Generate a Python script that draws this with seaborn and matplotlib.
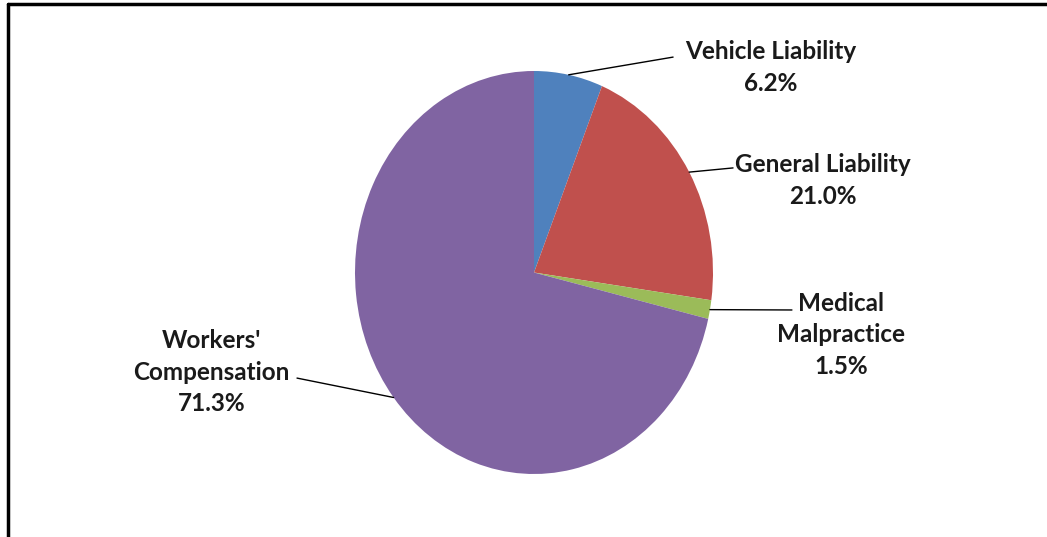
import numpy as np
import matplotlib
matplotlib.use("Agg")
import matplotlib.pyplot as plt
import seaborn as sns
from matplotlib.lines import Line2D

categories = ["Vehicle Liability", "General Liability", "Medical\nMalpractice", "Workers'\nCompensation"]
shares = [6.2, 21.0, 1.5, 71.3]
colors = ["#4F81BD", "#C0504D", "#9BBB59", "#8064A2"]

# label block centres and leader-line ends (data units, pie radius = 1)
label_xy = [(1.324, 1.017), (1.615, 0.457), (1.715, -0.310), (-1.802, -0.494)]
leader_end = [(0.777, 1.069), (1.112, 0.519), (1.441, -0.186), (-1.324, -0.524)]

sns.set_theme(style="white")
plt.rcParams["font.family"] = ["Lato", "DejaVu Sans"]

fig = plt.figure(figsize=(10.47, 5.37), dpi=100)
ax = fig.add_axes([0, 0, 1, 1])
wedges, _ = ax.pie(shares, colors=colors, startangle=90, counterclock=False,
                   wedgeprops=dict(linewidth=0))
ax.set_aspect("auto")
# stretch the pie vertically like the reference (rx=179px, ry=201.5px)
ax.set_xlim((0 - 534) / 179, (1047 - 534) / 179)
ax.set_ylim((272.5 - 537) / 201.5, 272.5 / 201.5)
ax.axis("off")

total = sum(shares)
cum = 0.0
for cat, val, (tx, ty), (ex, ey) in zip(categories, shares, label_xy, leader_end):
    mid = np.deg2rad(90 - 360 * (cum + val / 2) / total)
    cum += val
    sx, sy = np.cos(mid), np.sin(mid)
    ax.plot([sx, ex], [sy, ey], color="black", lw=1.0)
    ax.text(tx, ty, f"{cat}\n{val:.1f}%", ha="center", va="center",
            fontsize=17.5, fontweight="bold", color="#1a1a1a", linespacing=1.45)

# chart border (left and top edges)
fig.add_artist(Line2D([7.5 / 1047, 7.5 / 1047], [0, 1 - 4 / 537], color="black", lw=2.5,
                      transform=fig.transFigure))
fig.add_artist(Line2D([7.5 / 1047, 1], [1 - 4 / 537, 1 - 4 / 537], color="black", lw=2.5,
                      transform=fig.transFigure))

fig.savefig("out.png", dpi=100, facecolor="white")
